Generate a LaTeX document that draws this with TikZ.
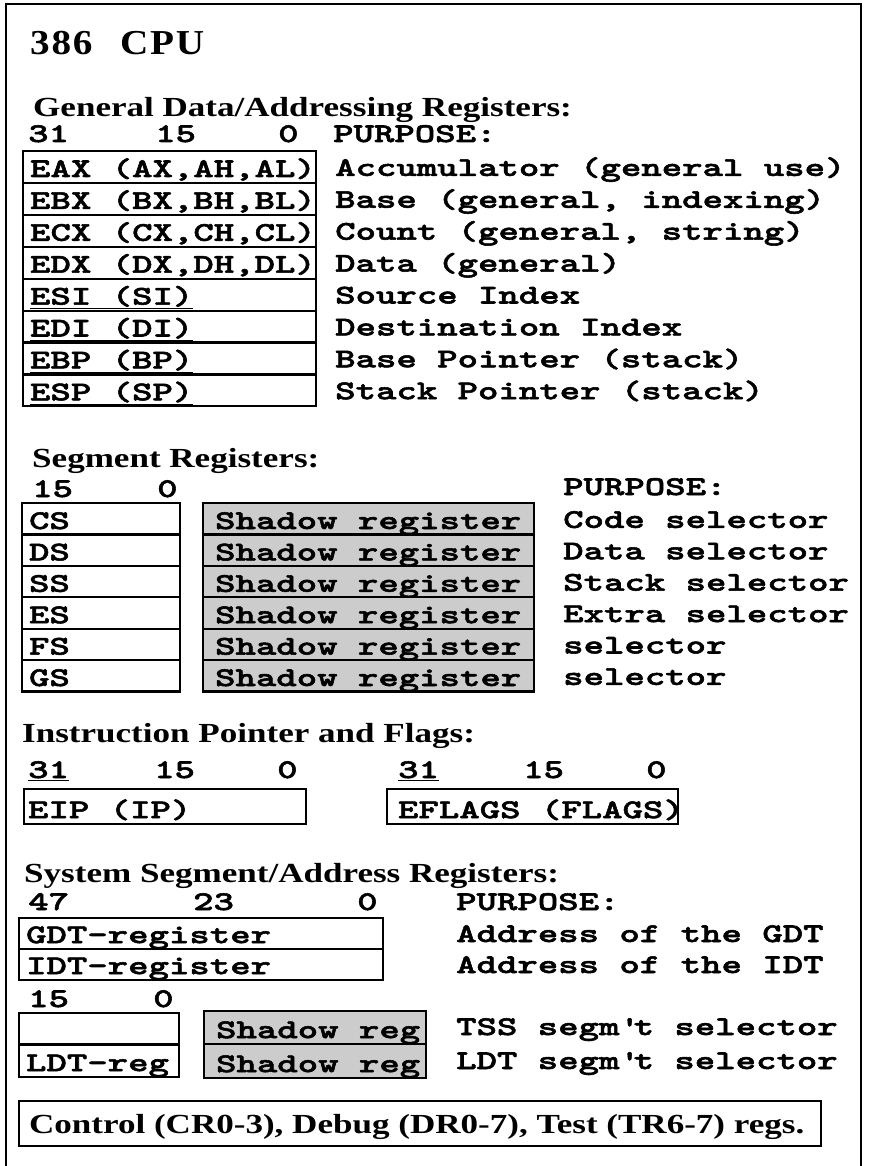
\documentclass[tikz,border=0pt]{standalone}
\usepackage{fontspec}
\newfontfamily\regfam[Extension=.otf,FakeStretch=1.44,FakeBold=2]{lmmonolt10-bold}
\newfontfamily\headfam[FakeStretch=1.27]{Liberation Serif}
\newfontfamily\titlefam[FakeStretch=1.12,LetterSpace=5]{Liberation Serif}
\newcommand\monof{\regfam\fontsize{27}{30}\selectfont}
\newcommand\headf{\headfam\bfseries\fontsize{27.6}{30}\selectfont}
\newcommand\titlef{\titlefam\bfseries\fontsize{35}{40}\selectfont}
\newcommand\ms{\hspace*{20.4pt}}
\newcommand\lbox[2]{\makebox[#1][l]{#2}}
\begin{document}
\begin{tikzpicture}[x=1pt,y=-1pt,
  box/.style={draw, line width=2.2pt, anchor=north west, inner ysep=0pt, font=\monof},
  genrow/.style={box, inner xsep=7pt, text height=25.9pt, text depth=6pt},
  segrow/.style={box, inner xsep=7pt, text height=25.9pt, text depth=5.5pt},
  shrow/.style={box, fill=black!20, inner xsep=12pt, text height=25.9pt, text depth=5.5pt},
  iprow/.style={box, text height=29pt, text depth=6pt},
  sysrow/.style={box, inner xsep=7pt, text height=25pt, text depth=6pt},
  mono/.style={anchor=base west, inner sep=0pt, font=\monof},
  bits/.style={mono, text height=14pt, text depth=2pt},
  head/.style={anchor=base west, inner sep=0pt, font=\headf, text depth=2pt},
]
\useasboundingbox (0,0) rectangle (877,1166);
% outer frame
\draw[line width=1.5pt] (6,1166) -- (6,4) -- (861,4) -- (861,1166);

% title
\node[anchor=base west, inner sep=0pt, font=\titlef] (title) at (30,55) {386\hspace{16pt} CPU};

% ---------- General registers ----------
\node[head] (hgen) at (33,117) {General Data/Addressing Registers:};
\node[bits] (g31) at (28,142) {31};
\node[bits] (g15) at (155,142) {15};
\node[bits] (g0) at (278,142) {0};
\node[bits] (gpur) at (333,142) {PURPOSE:};

\node[genrow] (eax) at (22,150) {\lbox{279pt}{\underline{EAX\ms(AX,AH,AL)}}};
\node[genrow] (ebx) at (22,181.9) {\lbox{279pt}{\underline{EBX\ms(BX,BH,BL)}}};
\node[genrow] (ecx) at (22,213.8) {\lbox{279pt}{\underline{ECX\ms(CX,CH,CL)}}};
\node[genrow] (edx) at (22,245.7) {\lbox{279pt}{\underline{EDX\ms(DX,DH,DL)}}};
\node[genrow] (esi) at (22,277.6) {\lbox{279pt}{\underline{ESI\ms(SI)}}};
\node[genrow] (edi) at (22,309.5) {\lbox{279pt}{\underline{EDI\ms(DI)}}};
\node[genrow] (ebp) at (22,341.4) {\lbox{279pt}{\underline{EBP\ms(BP)}}};
\node[genrow] (esp) at (22,373.3) {\lbox{279pt}{\underline{ESP\ms(SP)}}};

\node[mono] (peax) at (335,175.9) {Accumulator\ms(general\ms use)};
\node[mono] (pebx) at (335,207.8) {Base\ms(general,\ms indexing)};
\node[mono] (pecx) at (335,239.7) {Count\ms(general,\ms string)};
\node[mono] (pedx) at (335,271.6) {Data\ms(general)};
\node[mono] (pesi) at (335,303.5) {Source\ms Index};
\node[mono] (pedi) at (335,335.4) {Destination\ms Index};
\node[mono] (pebp) at (335,367.3) {Base\ms Pointer\ms(stack)};
\node[mono] (pesp) at (335,399.2) {Stack\ms Pointer\ms(stack)};

% ---------- Segment registers ----------
\node[head] (hseg) at (32,467) {Segment Registers:};
\node[bits] (s15) at (32,497) {15};
\node[bits] (s0) at (157,497) {0};
\node[bits] (spur) at (563,495) {PURPOSE:};

\node[segrow] (cs) at (21,502) {\lbox{144pt}{CS}};
\node[segrow] (ds) at (21,533.4) {\lbox{144pt}{DS}};
\node[segrow] (ss) at (21,564.8) {\lbox{144pt}{SS}};
\node[segrow] (es) at (21,596.2) {\lbox{144pt}{ES}};
\node[segrow] (fs) at (21,627.6) {\lbox{144pt}{FS}};
\node[segrow] (gs) at (21,659) {\lbox{144pt}{GS}};

\node[shrow] (shcs) at (202,502) {\lbox{307pt}{Shadow\ms register}};
\node[shrow] (shds) at (202,533.4) {\lbox{307pt}{Shadow\ms register}};
\node[shrow] (shss) at (202,564.8) {\lbox{307pt}{Shadow\ms register}};
\node[shrow] (shes) at (202,596.2) {\lbox{307pt}{Shadow\ms register}};
\node[shrow] (shfs) at (202,627.6) {\lbox{307pt}{Shadow\ms register}};
\node[shrow] (shgs) at (202,659) {\lbox{307pt}{Shadow\ms register}};

\node[mono] (pcs) at (563,527.9) {Code\ms selector};
\node[mono] (pds) at (563,559.3) {Data\ms selector};
\node[mono] (pss) at (563,590.7) {Stack\ms selector};
\node[mono] (pes) at (563,622.1) {Extra\ms selector};
\node[mono] (pfs) at (563,653.5) {selector};
\node[mono] (pgs) at (563,684.9) {selector};

% ---------- Instruction pointer and flags ----------
\node[head] (hip) at (22,742) {Instruction Pointer and Flags:};
\node[bits] (i31) at (28,778) {\underline{31}};
\node[bits] (i15) at (154,778) {15};
\node[bits] (i0) at (277,778) {0};
\node[bits] (f31) at (398,778) {\underline{31}};
\node[bits] (f15) at (523,778) {15};
\node[bits] (f0) at (646,778) {0};
\node[iprow, inner xsep=4pt] (eip) at (23,788) {\lbox{274pt}{EIP\ms(IP)}};
\node[iprow, inner xsep=11pt] (eflags) at (386,788) {\lbox{269pt}{EFLAGS\ms(FLAGS)}};

% ---------- System segment registers ----------
\node[head] (hsys) at (24,882) {System Segment/Address Registers:};
\node[bits] (y47) at (28,910) {47};
\node[bits] (y23) at (193,910) {23};
\node[bits] (y0) at (357,910) {0};
\node[bits] (ypur) at (456,910) {PURPOSE:};
\node[sysrow] (gdt) at (18,917) {\lbox{350pt}{GDT-register}};
\node[sysrow] (idt) at (18,948) {\lbox{350pt}{IDT-register}};
\node[mono] (pgdt) at (456,942) {Address\ms of\ms the\ms GDT};
\node[mono] (pidt) at (456,973) {Address\ms of\ms the\ms IDT};

\node[bits] (t15) at (28,1007) {15};
\node[bits] (t0) at (153,1007) {0};
\node[sysrow, text height=25.5pt] (tss) at (18,1012) {\lbox{146pt}{}};
\node[sysrow, text height=27pt] (ldt) at (18,1043) {\lbox{146pt}{LDT-reg}};
\node[sysrow, fill=black!20, inner xsep=12pt, text height=27pt] (shtss) at (203,1010) {\lbox{198pt}{Shadow\ms reg}};
\node[sysrow, fill=black!20, inner xsep=12pt, text height=28pt] (shldt) at (203,1043) {\lbox{198pt}{Shadow\ms reg}};
\node[mono] (ptss) at (456,1035) {TSS\ms segm\textquotesingle t\ms selector};
\node[mono] (pldt) at (456,1069) {LDT\ms segm\textquotesingle t\ms selector};

% ---------- Control / debug / test ----------
\node[box, font=\headf, inner xsep=10pt, text height=32pt, text depth=13pt] (ctrl) at (18,1100) {\lbox{782pt}{Control (CR0-3), Debug (DR0-7), Test (TR6-7) regs.}};
\end{tikzpicture}
\end{document}
